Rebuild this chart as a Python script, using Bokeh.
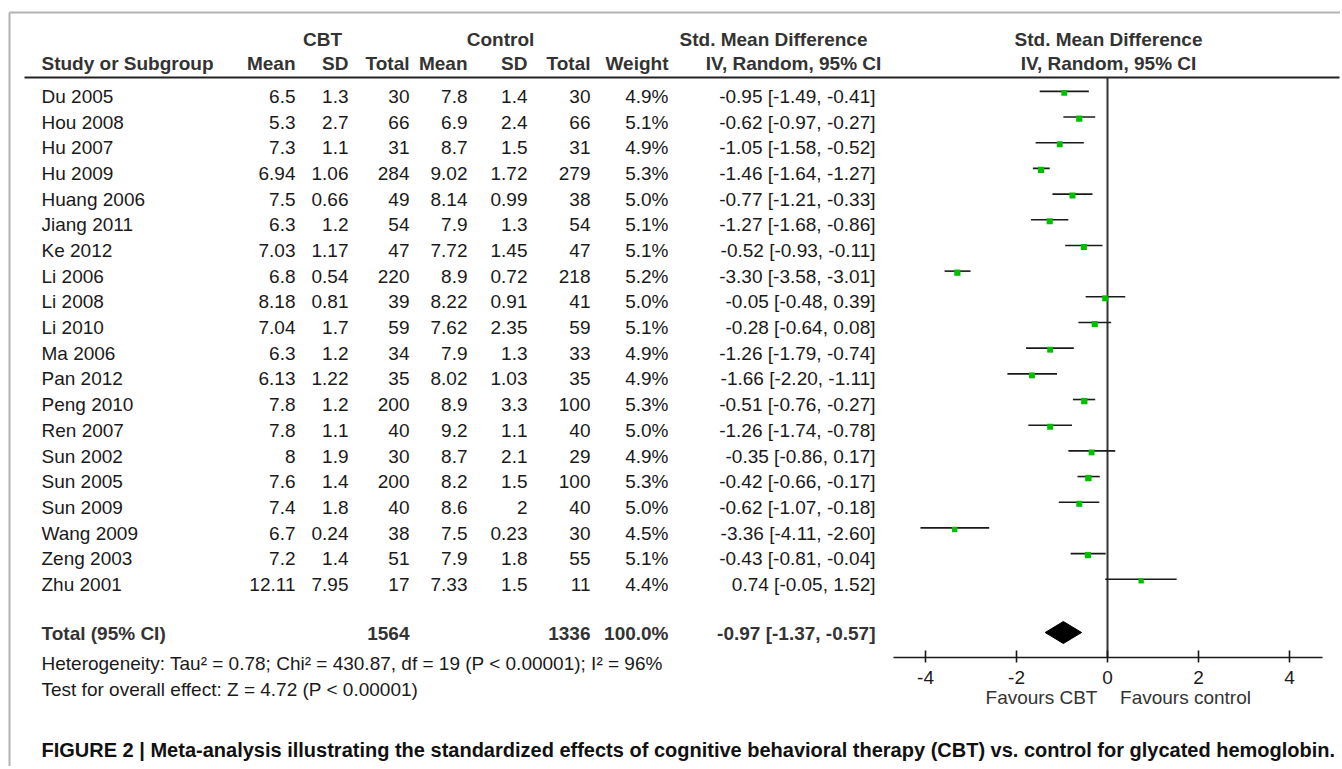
from bokeh.plotting import figure
from bokeh.models import Range1d, ColumnDataSource
from bokeh.core.properties import value
from bokeh.embed import file_html
from bokeh.resources import INLINE

# ---------------- data ----------------
studies = ["Du 2005", "Hou 2008", "Hu 2007", "Hu 2009", "Huang 2006", "Jiang 2011",
           "Ke 2012", "Li 2006", "Li 2008", "Li 2010", "Ma 2006", "Pan 2012",
           "Peng 2010", "Ren 2007", "Sun 2002", "Sun 2005", "Sun 2009", "Wang 2009",
           "Zeng 2003", "Zhu 2001"]
cbt_mean = [6.5, 5.3, 7.3, 6.94, 7.5, 6.3, 7.03, 6.8, 8.18, 7.04, 6.3, 6.13, 7.8, 7.8, 8, 7.6, 7.4, 6.7, 7.2, 12.11]
cbt_sd = [1.3, 2.7, 1.1, 1.06, 0.66, 1.2, 1.17, 0.54, 0.81, 1.7, 1.2, 1.22, 1.2, 1.1, 1.9, 1.4, 1.8, 0.24, 1.4, 7.95]
cbt_total = [30, 66, 31, 284, 49, 54, 47, 220, 39, 59, 34, 35, 200, 40, 30, 200, 40, 38, 51, 17]
ctl_mean = [7.8, 6.9, 8.7, 9.02, 8.14, 7.9, 7.72, 8.9, 8.22, 7.62, 7.9, 8.02, 8.9, 9.2, 8.7, 8.2, 8.6, 7.5, 7.9, 7.33]
ctl_sd = [1.4, 2.4, 1.5, 1.72, 0.99, 1.3, 1.45, 0.72, 0.91, 2.35, 1.3, 1.03, 3.3, 1.1, 2.1, 1.5, 2, 0.23, 1.8, 1.5]
ctl_total = [30, 66, 31, 279, 38, 54, 47, 218, 41, 59, 33, 35, 100, 40, 29, 100, 40, 30, 55, 11]
weight = [4.9, 5.1, 4.9, 5.3, 5.0, 5.1, 5.1, 5.2, 5.0, 5.1, 4.9, 4.9, 5.3, 5.0, 4.9, 5.3, 5.0, 4.5, 5.1, 4.4]
smd = [-0.95, -0.62, -1.05, -1.46, -0.77, -1.27, -0.52, -3.30, -0.05, -0.28, -1.26, -1.66,
       -0.51, -1.26, -0.35, -0.42, -0.62, -3.36, -0.43, 0.74]
ci_lo = [-1.49, -0.97, -1.58, -1.64, -1.21, -1.68, -0.93, -3.58, -0.48, -0.64, -1.79, -2.20,
         -0.76, -1.74, -0.86, -0.66, -1.07, -4.11, -0.81, -0.05]
ci_hi = [-0.41, -0.27, -0.52, -1.27, -0.33, -0.86, -0.11, -3.01, 0.39, 0.08, -0.74, -1.11,
         -0.27, -0.78, 0.17, -0.17, -0.18, -2.60, -0.04, 1.52]

total_cbt = 1564
total_ctl = 1336
total_weight = 100.0
total_smd = -0.97
total_lo = -1.37
total_hi = -0.57

axis_ticks = [-4, -2, 0, 2, 4]
heterogeneity = "Heterogeneity: Tau\u00b2 = 0.78; Chi\u00b2 = 430.87, df = 19 (P < 0.00001); I\u00b2 = 96%"
overall = "Test for overall effect: Z = 4.72 (P < 0.00001)"
caption = ("FIGURE 2 | Meta-analysis illustrating the standardized effects of cognitive "
           "behavioral therapy (CBT) vs. control for glycated hemoglobin.")

# ---------------- layout helpers ----------------
FONT = "Liberation Sans"
FS = "19px"
W, H = 1340, 766
X0, XS = 1107.0, 45.5          # page px of SMD 0, px per SMD unit
R0, RH = 96.0, 25.68           # page px of first row centre, row height


def ry(px):
    return (px - R0) / RH


def fx(px):
    return (px - X0) / XS


def fmt(v):
    return f"{v:g}"


p = figure(width=W, height=H, output_backend="svg", toolbar_location=None,
           x_range=Range1d(fx(0), fx(W)), y_range=Range1d(ry(H), ry(0)),
           x_axis_type=None, y_axis_type=None, min_border=0)
p.outline_line_color = None
p.background_fill_color = "white"
p.border_fill_color = "white"
p.extra_x_ranges = {"px": Range1d(0, W)}

n = len(studies)
rows = list(range(n))


def txt(xs, ys, texts, align="left", bold=False, color="#1a1a1a", size=FS, rng="px"):
    src = ColumnDataSource(dict(x=xs, y=ys, t=texts))
    kw = {}
    if rng:
        kw["x_range_name"] = rng
    p.text(x="x", y="y", text="t", source=src, text_align=align, text_baseline="middle",
           text_font=value(FONT), text_font_size=size,
           text_font_style="bold" if bold else "normal", text_color=color, **kw)


# frame
p.segment(x0=[9], y0=[ry(12)], x1=[W], y1=[ry(12)], line_color="#b3b3b3", line_width=2, x_range_name="px")
p.segment(x0=[9], y0=[ry(12)], x1=[9], y1=[ry(H)], line_color="#b3b3b3", line_width=2, x_range_name="px")

# headers
HC = "#333333"
txt([322, 500], [ry(39)] * 2, ["CBT", "Control"], "center", True, HC)
txt([773], [ry(39)], ["Std. Mean Difference"], "center", True, HC)
txt([1108], [ry(39)], ["Std. Mean Difference"], "center", True, HC)
txt([41], [ry(63)], ["Study or Subgroup"], "left", True, HC)
txt([295, 348, 409, 467, 527, 590, 668], [ry(63)] * 7,
    ["Mean", "SD", "Total", "Mean", "SD", "Total", "Weight"], "right", True, HC)
txt([793], [ry(63)], ["IV, Random, 95% CI"], "center", True, HC)
txt([1108], [ry(63)], ["IV, Random, 95% CI"], "center", True, HC)
p.segment(x0=[24], y0=[ry(77)], x1=[1339], y1=[ry(77)], line_color="#222222", line_width=2, x_range_name="px")

# study rows
txt([41] * n, rows, studies, "left")
col_x = [295, 348, 409, 467, 527, 590]
for cx, vals in zip(col_x, [cbt_mean, cbt_sd, cbt_total, ctl_mean, ctl_sd, ctl_total]):
    txt([cx] * n, rows, [fmt(v) for v in vals], "right")
txt([668] * n, rows, [f"{w:.1f}%" for w in weight], "right")
txt([875] * n, rows, [f"{m:.2f} [{a:.2f}, {b:.2f}]" for m, a, b in zip(smd, ci_lo, ci_hi)], "right")

# total row
ty = ry(633)
txt([41], [ty], ["Total (95% CI)"], "left", True, HC)
txt([409, 590, 668], [ty] * 3, [str(total_cbt), str(total_ctl), f"{total_weight:.1f}%"], "right", True, HC)
txt([875], [ty], [f"{total_smd:.2f} [{total_lo:.2f}, {total_hi:.2f}]"], "right", True, HC)
txt([41], [ry(663)], [heterogeneity], "left")
txt([41], [ry(689)], [overall], "left")
txt([41], [ry(749)], [caption], "left", True, "#111111", "20px")

# forest plot
fy = [r - 0.2 for r in rows]
p.segment(x0=[0], y0=[ry(77)], x1=[0], y1=[ry(657)], line_color="#333333", line_width=2)
p.segment(x0=ci_lo, y0=fy, x1=ci_hi, y1=fy, line_color="#1a1a1a", line_width=1.6)
p.scatter(x=smd, y=[r + 0.06 for r in fy], marker="square", size=[w * 1.2 for w in weight],
          fill_color="#00bf00", line_color=None)
dy = ry(632)
dh = 11 / RH
p.patch(x=[total_lo, total_smd, total_hi, total_smd], y=[dy, dy - dh, dy, dy + dh],
        fill_color="black", line_color="black")

# forest axis
p.segment(x0=[fx(893)], y0=[ry(657)], x1=[fx(1322)], y1=[ry(657)], line_color="#1a1a1a", line_width=1.6)
p.segment(x0=axis_ticks, y0=[ry(650)] * len(axis_ticks), x1=axis_ticks, y1=[ry(662)] * len(axis_ticks),
          line_color="#1a1a1a", line_width=1.6)
txt(axis_ticks, [ry(677)] * len(axis_ticks), [str(t) for t in axis_ticks], "center", rng=None)
txt([1041, 1185], [ry(697)] * 2, ["Favours CBT", "Favours control"], "center", False, "#333333")

open("out.html", "w").write(file_html(p, INLINE))
